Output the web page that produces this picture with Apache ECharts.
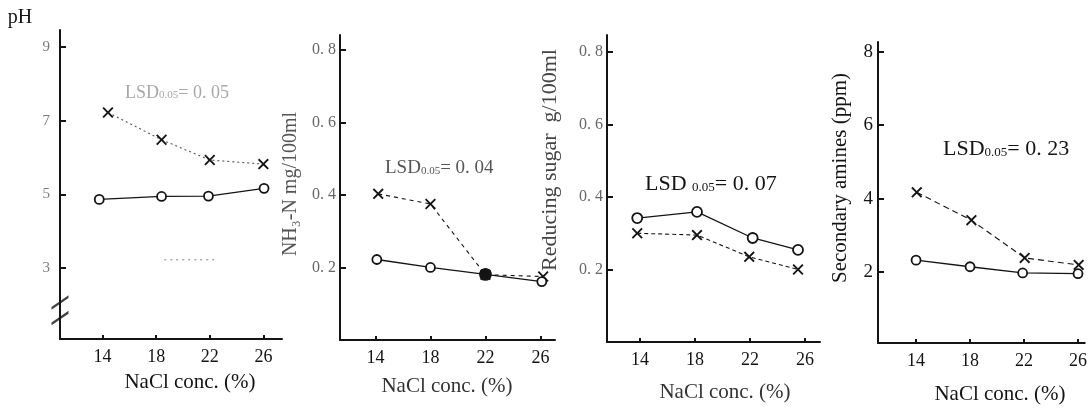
<!DOCTYPE html>
<html><head><meta charset="utf-8">
<script src="https://cdn.jsdelivr.net/npm/echarts@6/dist/echarts.min.js"></script>
<style>html,body{margin:0;padding:0;background:#fff}#c{width:1090px;height:410px}</style>
</head><body><div id="c"></div>
<script>
// ---- data ----
const naclTicks = [14, 18, 22, 26];
const xName = 'NaCl conc. (%)';

// Panel 1: pH
const phTicks = [3, 5, 7, 9];
const phTickLabels = ['3', '5', '7', '9'];
const phCircleX = [13.75, 18.4, 21.9, 26.05];
const phCircle = [4.86, 4.94, 4.95, 5.16];
const phCrossX = [14.4, 18.4, 22.0, 26.0];
const phCross = [7.22, 6.48, 5.93, 5.82];
const phLsdBarX = [18.6, 22.5];
const phLsdBarY = [3.22, 3.22];

// Panel 2: NH3-N
const nhTicks = [0.2, 0.4, 0.6, 0.8];
const nhTickLabels = ['0. 2', '0. 4', '0. 6', '0. 8'];
const nhCircleX = [14.1, 18, 22, 26.1];
const nhCircle = [0.222, 0.200, 0.181, 0.161];
const nhCrossX = [14.2, 18, 22, 26.2];
const nhCross = [0.403, 0.375, 0.180, 0.175];

// Panel 3: Reducing sugar
const rsTicks = [0.2, 0.4, 0.6, 0.8];
const rsTickLabels = ['0. 2', '0. 4', '0. 6', '0. 8'];
const rsCircleX = [13.8, 18.15, 22.2, 25.5];
const rsCircle = [0.342, 0.359, 0.287, 0.254];
const rsCrossX = [13.8, 18.15, 21.95, 25.5];
const rsCross = [0.300, 0.295, 0.235, 0.200];

// Panel 4: Secondary amines
const saTicks = [2, 4, 6, 8];
const saTickLabels = ['2', '4', '6', '8'];
const saCircleX = [14, 18, 21.9, 26];
const saCircle = [2.32, 2.14, 1.97, 1.95];
const saCrossX = [14.05, 18.1, 22.05, 26.05];
const saCross = [4.17, 3.41, 2.38, 2.19];

// ---- styling / build ----
const FONT = '"Liberation Serif", "Times New Roman", "DejaVu Serif", serif';
const INK = '#141414';
const CROSS = 'path://M0,1.2L1.2,0L5,3.8L8.8,0L10,1.2L6.2,5L10,8.8L8.8,10L5,6.2L1.2,10L0,8.8L3.8,5Z';
const BREAK = 'path://M0,9L10,0L10,2.2L0,11.2Z M0,21L10,12L10,14.2L0,23.2Z';

const zip = (xs, ys) => xs.map((x, i) => [x, ys[i]]);

const grids = [
  {left: 60, top: 30, width: 222, height: 309},
  {left: 340, top: 35, width: 215, height: 305},
  {left: 607, top: 35, width: 213, height: 307},
  {left: 878, top: 42, width: 212, height: 301}
];
const xRanges = [[10.82, 27.39], [11.42, 27.06], [11.6, 27.1], [11.18, 26.5]];
const yRanges = [[1.07, 9.46], [0, 0.841], [0, 0.847], [0.06, 8.27]];
const yTicks = [phTicks, nhTicks, rsTicks, saTicks];
const yLabels = [phTickLabels, nhTickLabels, rsTickLabels, saTickLabels];
const yLabelColor = ['#7a7a7a', '#666', '#666', INK];
const yLabelSize = [15, 16, 16, 19];
const yLabelMargin = [10, 4, 4, 5];

const xAxis = grids.map((g, i) => ({
  type: 'value', gridIndex: i, min: xRanges[i][0], max: xRanges[i][1],
  axisLine: {lineStyle: {color: INK, width: 2}},
  axisTick: {inside: true, length: 4, customValues: naclTicks, lineStyle: {color: INK, width: 2}},
  axisLabel: {customValues: naclTicks, fontFamily: FONT, fontSize: 18, color: INK, margin: 9},
  splitLine: {show: false}
}));
const yAxis = grids.map((g, i) => ({
  type: 'value', gridIndex: i, min: yRanges[i][0], max: yRanges[i][1],
  axisLine: {show: true, lineStyle: {color: INK, width: 2}},
  axisTick: {show: true, inside: true, length: 6, customValues: yTicks[i], lineStyle: {color: INK, width: 2}},
  axisLabel: {customValues: yTicks[i], fontFamily: FONT, fontSize: yLabelSize[i], color: yLabelColor[i], margin: yLabelMargin[i],
    formatter: v => { const k = yTicks[i].findIndex(t => Math.abs(t - v) < 1e-6); return k >= 0 ? yLabels[i][k] : ''; }},
  splitLine: {show: false}
}));

function circleSeries(i, xs, ys, extra) {
  return Object.assign({
    type: 'line', xAxisIndex: i, yAxisIndex: i, data: zip(xs, ys), z: 4,
    symbol: 'circle', symbolSize: 9, showSymbol: true,
    lineStyle: {color: INK, width: 1.3},
    itemStyle: {color: '#fff', borderColor: INK, borderWidth: 1.8},
    animation: false, silent: true
  }, extra || {});
}
function crossSeries(i, xs, ys, dash, color) {
  return {
    type: 'line', xAxisIndex: i, yAxisIndex: i, data: zip(xs, ys), z: 3,
    symbol: CROSS, symbolSize: 11,
    lineStyle: {color: color || INK, width: 1.1, type: dash},
    itemStyle: {color: INK},
    animation: false, silent: true
  };
}

const nhCircleData = zip(nhCircleX, nhCircle);
nhCircleData[2] = {value: nhCircleData[2], itemStyle: {color: INK}, symbolSize: 11};

const series = [
  crossSeries(0, phCrossX, phCross, [2, 3], '#555'),
  circleSeries(0, phCircleX, phCircle),
  {type: 'line', xAxisIndex: 0, yAxisIndex: 0, data: zip(phLsdBarX, phLsdBarY), symbol: 'none',
   lineStyle: {color: '#aaa', width: 1.5, type: [2, 4]}, animation: false, silent: true},
  {type: 'scatter', xAxisIndex: 0, yAxisIndex: 0, data: [[xRanges[0][0], 1.85]], symbol: BREAK,
   symbolSize: [17, 30], itemStyle: {color: INK}, clip: false, z: 6, animation: false, silent: true},
  crossSeries(1, nhCrossX, nhCross, [4, 4]),
  circleSeries(1, nhCircleX, nhCircle, {data: nhCircleData}),
  crossSeries(2, rsCrossX, rsCross, [4, 3]),
  circleSeries(2, rsCircleX, rsCircle, {symbolSize: 10}),
  crossSeries(3, saCrossX, saCross, [6, 4]),
  circleSeries(3, saCircleX, saCircle)
];

function lsd(left, top, sub, val, color, size, sep) {
  return {
    left, top,
    text: '{a|LSD' + (sep || '') + '}{b|' + sub + '}{a|= ' + val + '}',
    textStyle: {fontWeight: 'normal', rich: {
      a: {fontFamily: FONT, fontSize: size, fontWeight: 'normal', color, lineHeight: size + 4, verticalAlign: 'bottom'},
      b: {fontFamily: FONT, fontSize: Math.round(size * 0.6), fontWeight: 'normal', color, lineHeight: size + 4, verticalAlign: 'bottom', padding: [0, 0, 1, 0]}
    }}
  };
}
const titles = [
  lsd(120, 75, '0.05', '0. 05', '#a8a8a8', 18),
  lsd(380, 150, '0.05', '0. 04', '#555', 19),
  lsd(640, 164, '0.05', '0. 07', INK, 22, ' '),
  lsd(938, 129, '0.05', '0. 23', INK, 22)
];

function vText(x, y, text, size, color) {
  return {type: 'text', x, y, rotation: Math.PI / 2, silent: true,
    style: {text, fontFamily: FONT, fontSize: size, fill: color, align: 'center', verticalAlign: 'middle',
            textAlign: 'center', textVerticalAlign: 'middle'}};
}
function hText(x, y, text, size, color) {
  return {type: 'text', x, y, silent: true,
    style: {text, fontFamily: FONT, fontSize: size, fill: color, align: 'center', verticalAlign: 'middle',
            textAlign: 'center', textVerticalAlign: 'middle'}};
}
const graphic = [
  hText(20, 18, 'pH', 20, INK),
  vText(291, 184, 'NH₃-N mg/100ml', 20, '#555'),
  vText(550, 160, 'Reducing sugar  g/100ml', 22, '#444'),
  vText(840, 178, 'Secondary amines (ppm)', 21, INK),
  hText(190, 382, xName, 21, INK),
  hText(447, 386, xName, 21, '#333'),
  hText(725, 392, xName, 21, '#333'),
  hText(1000, 394, xName, 21, INK)
];

const chart = echarts.init(document.getElementById('c'), null, {renderer: 'canvas'});
chart.setOption({
  backgroundColor: '#fff', animation: false,
  grid: grids, xAxis, yAxis, series, title: titles, graphic
});
</script>
</body></html>
